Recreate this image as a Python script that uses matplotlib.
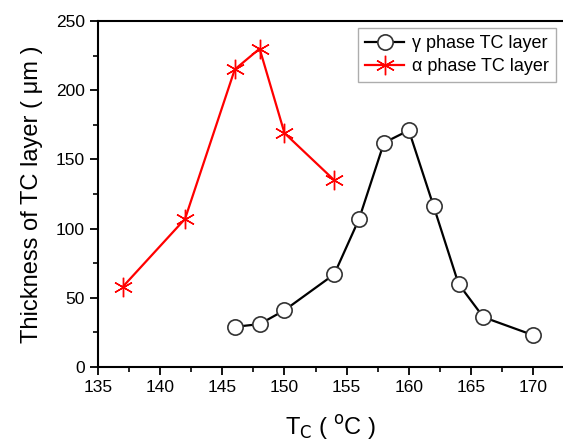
import numpy as np
import matplotlib
matplotlib.use("Agg")
import matplotlib.pyplot as plt
from matplotlib.ticker import MultipleLocator

# alpha phase TC layer
t_alpha = [137, 142, 146, 148, 150, 154]
d_alpha = [58, 107, 215, 230, 169, 135]

# gamma phase TC layer
t_gamma = [146, 148, 150, 154, 156, 158, 160, 162, 164, 166, 170]
d_gamma = [29, 31, 41, 67, 107, 162, 171, 116, 60, 36, 23]

plt.rcParams['font.family'] = ['Liberation Sans', 'DejaVu Sans']

fig = plt.figure(figsize=(5.63, 4.44), dpi=100)
# right edge of the plot is cut by the figure border, as in the original
ax = fig.add_axes([98/563, 77/444, 1 - 98/563, 346/444])

ax.plot(t_gamma, d_gamma, color='black', lw=1.6, marker='o', ms=11,
        mfc='white', mec='#333333', mew=1.2, label='γ phase TC layer')
ax.plot(t_alpha, d_alpha, color='red', lw=1.6, marker=(6, 2, 0), ms=14,
        mew=1.0, label='α phase TC layer')

ax.set_xlim(135, 172.4)
ax.set_ylim(0, 250)
ax.xaxis.set_major_locator(MultipleLocator(5))
ax.xaxis.set_minor_locator(MultipleLocator(2.5))
ax.yaxis.set_major_locator(MultipleLocator(50))
ax.yaxis.set_minor_locator(MultipleLocator(25))
ax.tick_params(which='major', length=6, width=1.3, labelsize=12.5, direction='out')
ax.tick_params(which='minor', length=3.5, width=1.2, direction='out')
for s in ax.spines.values():
    s.set_linewidth(1.5)
ax.spines['right'].set_visible(False)

ax.set_xlabel(r'T$_{\rm C}$ ( $^{\rm o}$C )', fontsize=17, labelpad=13)
ax.set_ylabel('Thickness of TC layer ( μm )', fontsize=17, labelpad=9)

leg = ax.legend(loc='upper right', fontsize=13, frameon=True, fancybox=False,
                handlelength=2.2, handletextpad=0.4, borderpad=0.4,
                labelspacing=0.3, borderaxespad=0.4)
leg.get_frame().set_edgecolor('#999999')
leg.get_frame().set_linewidth(1.0)

fig.savefig('out.png', dpi=100)
